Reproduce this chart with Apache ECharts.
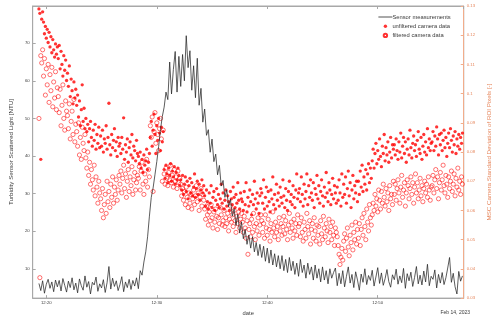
<!DOCTYPE html>
<html>
<head>
<meta charset="utf-8">
<script src="https://cdn.jsdelivr.net/npm/echarts@6/dist/echarts.min.js"></script>
<style>
  html, body { margin: 0; padding: 0; background: #fff; }
  #chart { width: 500px; height: 321px; }
</style>
</head>
<body>
<div id="chart"></div>
<script>
// time is in minutes after 12:00 (Feb 14, 2023)
// sensor: one reading every 10 s starting 12:19:20
const sensorStart = 19 + 20 / 60;
const sensorStep = 10 / 60;
const sensorNtu = [
  6.1, 4.2, 6.8, 3.5, 5.9, 7.2, 4.8, 6.5, 3.9, 7.0,
  5.2, 6.9, 4.1, 7.4, 5.6, 3.8, 6.7, 5.0, 7.6, 4.4,
  6.2, 3.6, 7.3, 5.5, 4.3, 8.1, 5.1, 6.6, 3.3, 6.4,
  5.7, 7.8, 4.0, 6.0, 4.9, 7.1, 3.7, 6.3, 10.6, 4.6,
  7.5, 5.3, 6.8, 4.2, 5.8, 7.9, 3.9, 6.5, 5.0, 7.2,
  4.5, 6.9, 5.4, 7.6, 4.7,
  9.5, 8.3, 11.8, 14.5, 18.5, 24.0, 29.0, 31.5, 35.0, 38.5,
  42.5, 47.0, 50.5, 53.0, 57.0, 55.0, 65.0, 56.5, 63.0, 67.8,
  57.0, 66.5, 58.5, 67.0, 60.0, 72.0, 63.5, 68.0, 57.5, 64.0,
  55.5, 66.0, 53.5, 58.0, 49.0, 52.5, 45.5, 47.0, 41.0, 44.5,
  38.5, 40.5, 35.0, 37.5, 32.0, 33.5, 29.0, 31.0, 26.5, 28.5,
  24.0, 26.0, 21.5, 24.5, 19.5, 22.5, 18.0, 20.5, 16.5, 19.0,
  15.5, 18.5, 14.5, 17.0, 13.5, 16.5, 13.0, 16.0, 12.0, 15.5,
  11.5, 15.0, 11.0, 14.0, 10.5, 13.5, 10.0, 13.5, 9.5, 12.5,
  9.0, 13.0, 9.5, 12.0, 8.5, 11.5, 8.0, 12.5, 9.0, 11.0,
  7.5, 11.5, 8.5, 10.5, 7.0, 11.0, 7.5, 10.0, 6.5, 10.5,
  7.0, 9.5, 6.0, 10.0, 7.5, 9.0,
  10.2, 5.5, 8.8, 6.0, 9.5, 5.2, 8.0, 10.5, 6.2, 8.5,
  5.0, 9.2, 7.0, 4.3, 8.6, 6.4, 10.0, 5.8, 8.2, 6.9,
  9.6, 5.4, 7.8, 10.3, 6.1, 8.9, 5.6, 7.4, 9.8, 6.6,
  5.1, 8.4, 7.1, 9.9, 5.9, 8.1, 6.3, 10.1, 4.8, 8.7,
  6.8, 9.1, 5.3, 7.7, 10.6, 6.0, 8.3, 5.7, 9.4, 6.5,
  11.2, 5.5, 8.0, 7.2, 9.7, 4.9, 8.5, 6.2, 9.0, 5.8,
  7.6, 10.2, 13.0, 6.4, 8.8, 5.2, 3.3, 9.3, 6.7, 8.1
];

// camera: one frame every 5 s starting 12:19:20
const cameraStart = 19 + 20 / 60;
const cameraStep = 5 / 60;
const unfiltered = [
  0.1290, 0.1275, 0.0775, 0.1255, 0.1280,
  0.1245, 0.1205, 0.1230, 0.1190, 0.1220, 0.1175, 0.1210, 0.1160, 0.1195, 0.1140, 0.1185, 0.1150, 0.1125, 0.1170, 0.1135, 0.1160,
  0.1120, 0.1165, 0.1085, 0.1145, 0.1100, 0.1060, 0.1130, 0.1080, 0.1115, 0.1045,
  0.1070, 0.1025, 0.1095, 0.0990, 0.1050, 0.1010, 0.0965, 0.1040, 0.0985, 0.1015,
  0.0960, 0.0995, 0.0920, 0.0975, 0.0890, 0.0945, 0.1030, 0.0905, 0.0950, 0.0880,
  0.0915, 0.0870, 0.0895, 0.0835, 0.0880, 0.0905, 0.0850, 0.0820, 0.0875, 0.0840, 0.0895, 0.0810, 0.0860, 0.0830, 0.0885, 0.0815,
  0.0855, 0.0820, 0.0875, 0.0800, 0.0845, 0.0830, 0.0890, 0.0810, 0.0850, 0.0967, 0.0825, 0.0790, 0.0860, 0.0815, 0.0840, 0.0880,
  0.0805, 0.0835, 0.0785, 0.0850, 0.0820,
  0.0830, 0.0795, 0.0850, 0.0810, 0.0917, 0.0775, 0.0825, 0.0800, 0.0845, 0.0765, 0.0815, 0.0835, 0.0790, 0.0860, 0.0780, 0.0820,
  0.0805, 0.0770, 0.0840, 0.0795,
  0.0785, 0.0760, 0.0800, 0.0745, 0.0775, 0.0730, 0.0790, 0.0755, 0.0770, 0.0810, 0.0740, 0.0765, 0.0795,
  0.0850, 0.0905, 0.0820, 0.0875, 0.0930, 0.0860, 0.0795, 0.0890, 0.0840, 0.0915, 0.0865, 0.0805, 0.0885, 0.0835, 0.0870,
  0.0740, 0.0710, 0.0755, 0.0725, 0.0695, 0.0745, 0.0720, 0.0760, 0.0700, 0.0735, 0.0715, 0.0750, 0.0690, 0.0730, 0.0705, 0.0745,
  0.0720, 0.0685,
  0.0705, 0.0670, 0.0720, 0.0655, 0.0690, 0.0715, 0.0665, 0.0700, 0.0640, 0.0685, 0.0710, 0.0660, 0.0695, 0.0650, 0.0680, 0.0725,
  0.0645, 0.0675, 0.0700, 0.0655, 0.0690, 0.0635, 0.0670, 0.0705, 0.0660, 0.0685,
  0.0650, 0.0615, 0.0670, 0.0630, 0.0605, 0.0660, 0.0625, 0.0685, 0.0610, 0.0645, 0.0665, 0.0600, 0.0635, 0.0675, 0.0620, 0.0655,
  0.0610, 0.0640, 0.0690, 0.0625, 0.0660, 0.0605, 0.0635, 0.0670, 0.0615, 0.0650, 0.0630, 0.0600, 0.0665, 0.0640, 0.0620, 0.0680,
  0.0645, 0.0610, 0.0655, 0.0625, 0.0695, 0.0635, 0.0605, 0.0660, 0.0640,
  0.0630, 0.0600, 0.0665, 0.0620, 0.0695, 0.0595, 0.0645, 0.0615, 0.0670, 0.0630, 0.0585, 0.0655, 0.0620, 0.0700, 0.0640, 0.0605,
  0.0660, 0.0625, 0.0590, 0.0650, 0.0675,
  0.0660, 0.0625, 0.0705, 0.0605, 0.0645, 0.0680, 0.0615, 0.0665, 0.0630, 0.0595, 0.0670, 0.0640, 0.0715, 0.0620, 0.0655, 0.0605,
  0.0690, 0.0635, 0.0660, 0.0615, 0.0680, 0.0645, 0.0625, 0.0705, 0.0650, 0.0610, 0.0675, 0.0635, 0.0600, 0.0665, 0.0700, 0.0630,
  0.0655, 0.0620, 0.0685, 0.0645, 0.0610, 0.0670, 0.0725, 0.0640, 0.0660,
  0.0675, 0.0630, 0.0715, 0.0655, 0.0615, 0.0690, 0.0640, 0.0665, 0.0725, 0.0620, 0.0685, 0.0645, 0.0705, 0.0660, 0.0635, 0.0695,
  0.0610, 0.0675, 0.0655, 0.0720, 0.0640, 0.0685, 0.0625, 0.0665, 0.0705, 0.0650, 0.0615, 0.0680, 0.0645, 0.0730, 0.0660, 0.0630,
  0.0695, 0.0670, 0.0620, 0.0655, 0.0710, 0.0640, 0.0685, 0.0660, 0.0625,
  0.0680, 0.0635, 0.0705, 0.0660, 0.0615, 0.0725, 0.0645, 0.0690, 0.0655, 0.0715, 0.0625, 0.0675, 0.0735, 0.0650, 0.0695, 0.0610,
  0.0670, 0.0720, 0.0640, 0.0685, 0.0660, 0.0700, 0.0630,
  0.0700, 0.0655, 0.0735, 0.0680, 0.0755, 0.0665, 0.0715, 0.0690, 0.0740, 0.0670, 0.0725, 0.0760, 0.0695, 0.0745, 0.0710,
  0.0770, 0.0810, 0.0745, 0.0795, 0.0830, 0.0760, 0.0805, 0.0775, 0.0845, 0.0785, 0.0750, 0.0820, 0.0795, 0.0860, 0.0770, 0.0815,
  0.0790, 0.0835, 0.0765, 0.0800, 0.0850, 0.0780, 0.0825, 0.0810,
  0.0825, 0.0790, 0.0845, 0.0805, 0.0775, 0.0835, 0.0800, 0.0865, 0.0780, 0.0820, 0.0850, 0.0795, 0.0835, 0.0765, 0.0810, 0.0845,
  0.0790, 0.0875, 0.0815, 0.0780, 0.0830, 0.0855, 0.0805, 0.0825, 0.0785, 0.0840, 0.0870, 0.0810, 0.0795, 0.0850, 0.0775, 0.0820,
  0.0860, 0.0800, 0.0835, 0.0790, 0.0880, 0.0815, 0.0845, 0.0805, 0.0830,
  0.0835, 0.0870, 0.0805, 0.0855, 0.0820, 0.0886, 0.0845, 0.0790, 0.0860, 0.0825, 0.0865, 0.0805, 0.0840, 0.0875, 0.0815, 0.0850,
  0.0785, 0.0830, 0.0865, 0.0815, 0.0880, 0.0840, 0.0800, 0.0855, 0.0825, 0.0870, 0.0795, 0.0845, 0.0820, 0.0860, 0.0810, 0.0850,
  0.0830, 0.0865
];
const filtered = [
  0.0915, 0.0370, 0.1130, 0.1105, 0.1150,
  0.1060, 0.1120, 0.0995, 0.1085, 0.1030, 0.1100, 0.0970, 0.1065, 0.1010, 0.1090, 0.0955, 0.1040, 0.0985, 0.1075, 0.0945, 0.1020,
  0.0990, 0.0935, 0.1015, 0.0890, 0.0960, 0.1030, 0.0915, 0.0875, 0.0975, 0.0940,
  0.0925, 0.0880, 0.0965, 0.0845, 0.0905, 0.0940, 0.0860, 0.0980, 0.0835, 0.0895,
  0.0870, 0.0820, 0.0900, 0.0790, 0.0850, 0.0775, 0.0885, 0.0830, 0.0805, 0.0860,
  0.0780, 0.0745, 0.0800, 0.0720, 0.0765, 0.0690, 0.0740, 0.0705, 0.0670, 0.0755, 0.0650, 0.0715, 0.0680, 0.0625, 0.0700, 0.0660,
  0.0640, 0.0600, 0.0675, 0.0575, 0.0620, 0.0655, 0.0590, 0.0700, 0.0630, 0.0665, 0.0610, 0.0690, 0.0645, 0.0715, 0.0625, 0.0680,
  0.0655, 0.0705, 0.0635, 0.0670, 0.0720,
  0.0690, 0.0735, 0.0660, 0.0710, 0.0755, 0.0675, 0.0725, 0.0645, 0.0700, 0.0740, 0.0665, 0.0715, 0.0685, 0.0750, 0.0655, 0.0705,
  0.0730, 0.0670, 0.0695, 0.0720,
  0.0710, 0.0750, 0.0670, 0.0735, 0.0765, 0.0690, 0.0655, 0.0725, 0.0700, 0.0775, 0.0680, 0.0740, 0.0715,
  0.0890, 0.0850, 0.0920, 0.0665, 0.0870, 0.0935, 0.0830, 0.0900, 0.0860, 0.0805, 0.0880, 0.0915, 0.0845, 0.0700, 0.0875,
  0.0725, 0.0690, 0.0745, 0.0710, 0.0685, 0.0730, 0.0705, 0.0755, 0.0695, 0.0720, 0.0680, 0.0740, 0.0700, 0.0715, 0.0675, 0.0735,
  0.0695, 0.0710,
  0.0690, 0.0650, 0.0675, 0.0635, 0.0665, 0.0620, 0.0680, 0.0645, 0.0610, 0.0660, 0.0625, 0.0655, 0.0605, 0.0640, 0.0670, 0.0620,
  0.0650, 0.0685, 0.0630, 0.0660, 0.0600, 0.0645, 0.0675, 0.0615, 0.0655, 0.0635,
  0.0605, 0.0570, 0.0615, 0.0585, 0.0550, 0.0595, 0.0565, 0.0620, 0.0575, 0.0540, 0.0595, 0.0560, 0.0605, 0.0580, 0.0535, 0.0575,
  0.0555, 0.0610, 0.0585, 0.0550, 0.0565, 0.0600, 0.0545, 0.0575, 0.0555, 0.0590, 0.0530, 0.0570, 0.0615, 0.0560, 0.0585, 0.0545,
  0.0600, 0.0565, 0.0525, 0.0580, 0.0555, 0.0595, 0.0540, 0.0570, 0.0590,
  0.0560, 0.0525, 0.0580, 0.0540, 0.0505, 0.0565, 0.0450, 0.0535, 0.0555, 0.0510, 0.0570, 0.0525, 0.0590, 0.0545, 0.0500, 0.0555,
  0.0530, 0.0575, 0.0515, 0.0550, 0.0585,
  0.0565, 0.0525, 0.0555, 0.0505, 0.0585, 0.0540, 0.0515, 0.0570, 0.0535, 0.0495, 0.0555, 0.0525, 0.0595, 0.0540, 0.0510, 0.0560,
  0.0525, 0.0545, 0.0500, 0.0575, 0.0530, 0.0555, 0.0515, 0.0545, 0.0580, 0.0520, 0.0565, 0.0535, 0.0500, 0.0550, 0.0590, 0.0525,
  0.0560, 0.0540, 0.0505, 0.0570, 0.0530, 0.0555, 0.0515, 0.0585, 0.0545,
  0.0555, 0.0510, 0.0575, 0.0525, 0.0495, 0.0560, 0.0535, 0.0505, 0.0590, 0.0545, 0.0520, 0.0565, 0.0485, 0.0535, 0.0555, 0.0505,
  0.0575, 0.0530, 0.0495, 0.0550, 0.0515, 0.0545, 0.0485, 0.0565, 0.0520, 0.0500, 0.0580, 0.0540, 0.0510, 0.0555, 0.0530, 0.0490,
  0.0570, 0.0525, 0.0545, 0.0500, 0.0560, 0.0515, 0.0480, 0.0540, 0.0525,
  0.0510, 0.0480, 0.0450, 0.0415, 0.0440, 0.0470, 0.0430, 0.0495, 0.0520, 0.0460, 0.0505, 0.0540, 0.0475, 0.0445, 0.0515, 0.0490,
  0.0550, 0.0465, 0.0525, 0.0500, 0.0560, 0.0485, 0.0535,
  0.0505, 0.0555, 0.0480, 0.0535, 0.0575, 0.0515, 0.0590, 0.0545, 0.0500, 0.0605, 0.0560, 0.0530, 0.0620, 0.0575, 0.0550,
  0.0585, 0.0625, 0.0600, 0.0655, 0.0615, 0.0640, 0.0595, 0.0670, 0.0635, 0.0605, 0.0665, 0.0625, 0.0690, 0.0645, 0.0615, 0.0675,
  0.0630, 0.0660, 0.0600, 0.0685, 0.0640, 0.0655, 0.0620, 0.0700,
  0.0655, 0.0690, 0.0635, 0.0675, 0.0705, 0.0660, 0.0625, 0.0680, 0.0720, 0.0645, 0.0670, 0.0695, 0.0615, 0.0660, 0.0705, 0.0685,
  0.0640, 0.0675, 0.0715, 0.0655, 0.0695, 0.0625, 0.0680, 0.0725, 0.0660, 0.0695, 0.0640, 0.0670, 0.0710, 0.0650, 0.0685, 0.0630,
  0.0675, 0.0700, 0.0660, 0.0690, 0.0645, 0.0715, 0.0670, 0.0635, 0.0680,
  0.0685, 0.0720, 0.0660, 0.0705, 0.0740, 0.0675, 0.0715, 0.0640, 0.0695, 0.0730, 0.0670, 0.0705, 0.0755, 0.0685, 0.0660, 0.0720,
  0.0690, 0.0645, 0.0715, 0.0675, 0.0700, 0.0735, 0.0665, 0.0690, 0.0725, 0.0650, 0.0710, 0.0680, 0.0745, 0.0670, 0.0700, 0.0655,
  0.0715, 0.0690
];

const xMin = 18 + 46 / 60;   // 12:18:46
const xMax = 57 + 47 / 60;   // 12:57:47
const leftMin = 2.2, leftMax = 79.9;
const rightMin = 0.03, rightMax = 0.13;

const font = 'Liberation Sans, Arial, Helvetica, sans-serif';
const axisGray = '#a8a8a8';
const textGray = '#3a3a3a';
const rightLine = '#f2ad8b';
const rightText = '#e6865c';

const sensorData = sensorNtu.map((v, i) => [sensorStart + i * sensorStep, v]);
const unfilteredData = unfiltered.map((v, i) => [cameraStart + i * cameraStep, v]);
const filteredData = filtered.map((v, i) => [cameraStart + i * cameraStep, v]);

const chart = echarts.init(document.getElementById('chart'));

const xCommon = {
  type: 'value',
  min: xMin,
  max: xMax,
  splitNumber: 4,
  splitLine: { show: false },
  axisLine: { lineStyle: { color: axisGray, width: 1 } },
  axisTick: { inside: true, length: 3, lineStyle: { color: axisGray } }
};

chart.setOption({
  animation: false,
  textStyle: { fontFamily: font },
  grid: {
    left: 20, right: 26, top: 6, bottom: 20,
    show: true, borderColor: axisGray, borderWidth: 1
  },
  legend: {
    orient: 'vertical',
    left: 378,
    top: 14,
    itemWidth: 14,
    itemHeight: 3.4,
    itemGap: 3.2,
    padding: 0,
    lineStyle: { width: 0.8 },
    textStyle: { fontSize: 5.8, color: textGray, fontFamily: font, padding: [0, 0, 0, -5] },
    data: [
      { name: 'Sensor measurements', itemStyle: { opacity: 0 } },
      'unfiltered camera data',
      'filtered camera data'
    ]
  },
  xAxis: [
    Object.assign({}, xCommon, {
      position: 'bottom',
      name: 'date',
      nameLocation: 'middle',
      nameGap: 9,
      nameTextStyle: { fontSize: 5.8, color: textGray },
      axisLabel: {
        fontSize: 4.3,
        color: textGray,
        margin: 3,
        showMinLabel: false,
        showMaxLabel: false,
        formatter: v => (Math.abs(v % 10) < 1e-6 ? '12:' + v : '')
      }
    }),
    Object.assign({}, xCommon, {
      position: 'top',
      axisLabel: { show: false }
    })
  ],
  yAxis: [
    {
      type: 'value',
      position: 'left',
      min: leftMin,
      max: leftMax,
      splitNumber: 8,
      splitLine: { show: false },
      name: 'Turbidity Sensor Scattered Light [NTU]',
      nameLocation: 'middle',
      nameGap: 10,
      nameRotate: 90,
      nameTextStyle: { fontSize: 6.2, color: textGray },
      axisLine: { show: true, lineStyle: { color: axisGray, width: 1 } },
      axisTick: { inside: true, length: 3, lineStyle: { color: axisGray } },
      axisLabel: {
        fontSize: 4.3,
        color: textGray,
        margin: 3,
        showMinLabel: false,
        showMaxLabel: false,
        formatter: v => (Math.abs(v % 10) < 1e-6 ? String(v) : '')
      }
    },
    {
      type: 'value',
      position: 'right',
      min: rightMin,
      max: rightMax,
      interval: 0.01,
      splitLine: { show: false },
      name: 'MSC Camera Standard Deviation of ROI Pixels [-]',
      nameLocation: 'middle',
      nameGap: 16,
      nameRotate: 90,
      nameTextStyle: { fontSize: 6.2, color: rightText },
      axisLine: { show: true, lineStyle: { color: rightLine, width: 1 } },
      axisTick: { inside: true, length: 3, lineStyle: { color: rightLine } },
      axisLabel: {
        fontSize: 4.3,
        color: rightText,
        margin: 3,
        formatter: v => String(Math.round(v * 100) / 100)
      }
    }
  ],
  series: [
    {
      name: 'Sensor measurements',
      type: 'line',
      xAxisIndex: 0,
      yAxisIndex: 0,
      symbol: 'none',
      data: sensorData,
      lineStyle: { color: '#262626', width: 0.75 },
      itemStyle: { color: '#262626' },
      z: 5
    },
    {
      name: 'unfiltered camera data',
      type: 'scatter',
      xAxisIndex: 0,
      yAxisIndex: 1,
      symbol: 'circle',
      symbolSize: 3.3,
      data: unfilteredData,
      itemStyle: { color: '#ff0000' },
      z: 3
    },
    {
      name: 'filtered camera data',
      type: 'scatter',
      xAxisIndex: 0,
      yAxisIndex: 1,
      symbol: 'circle',
      symbolSize: 4.2,
      data: filteredData,
      itemStyle: { color: 'rgba(255,255,255,0)', borderColor: '#ff0000', borderWidth: 0.7 },
      z: 2
    }
  ],
  graphic: [
    {
      type: 'text',
      right: 30,
      top: 310,
      style: { text: 'Feb 14, 2023', fontSize: 5, fill: textGray, fontFamily: font }
    }
  ]
});
</script>
</body>
</html>
